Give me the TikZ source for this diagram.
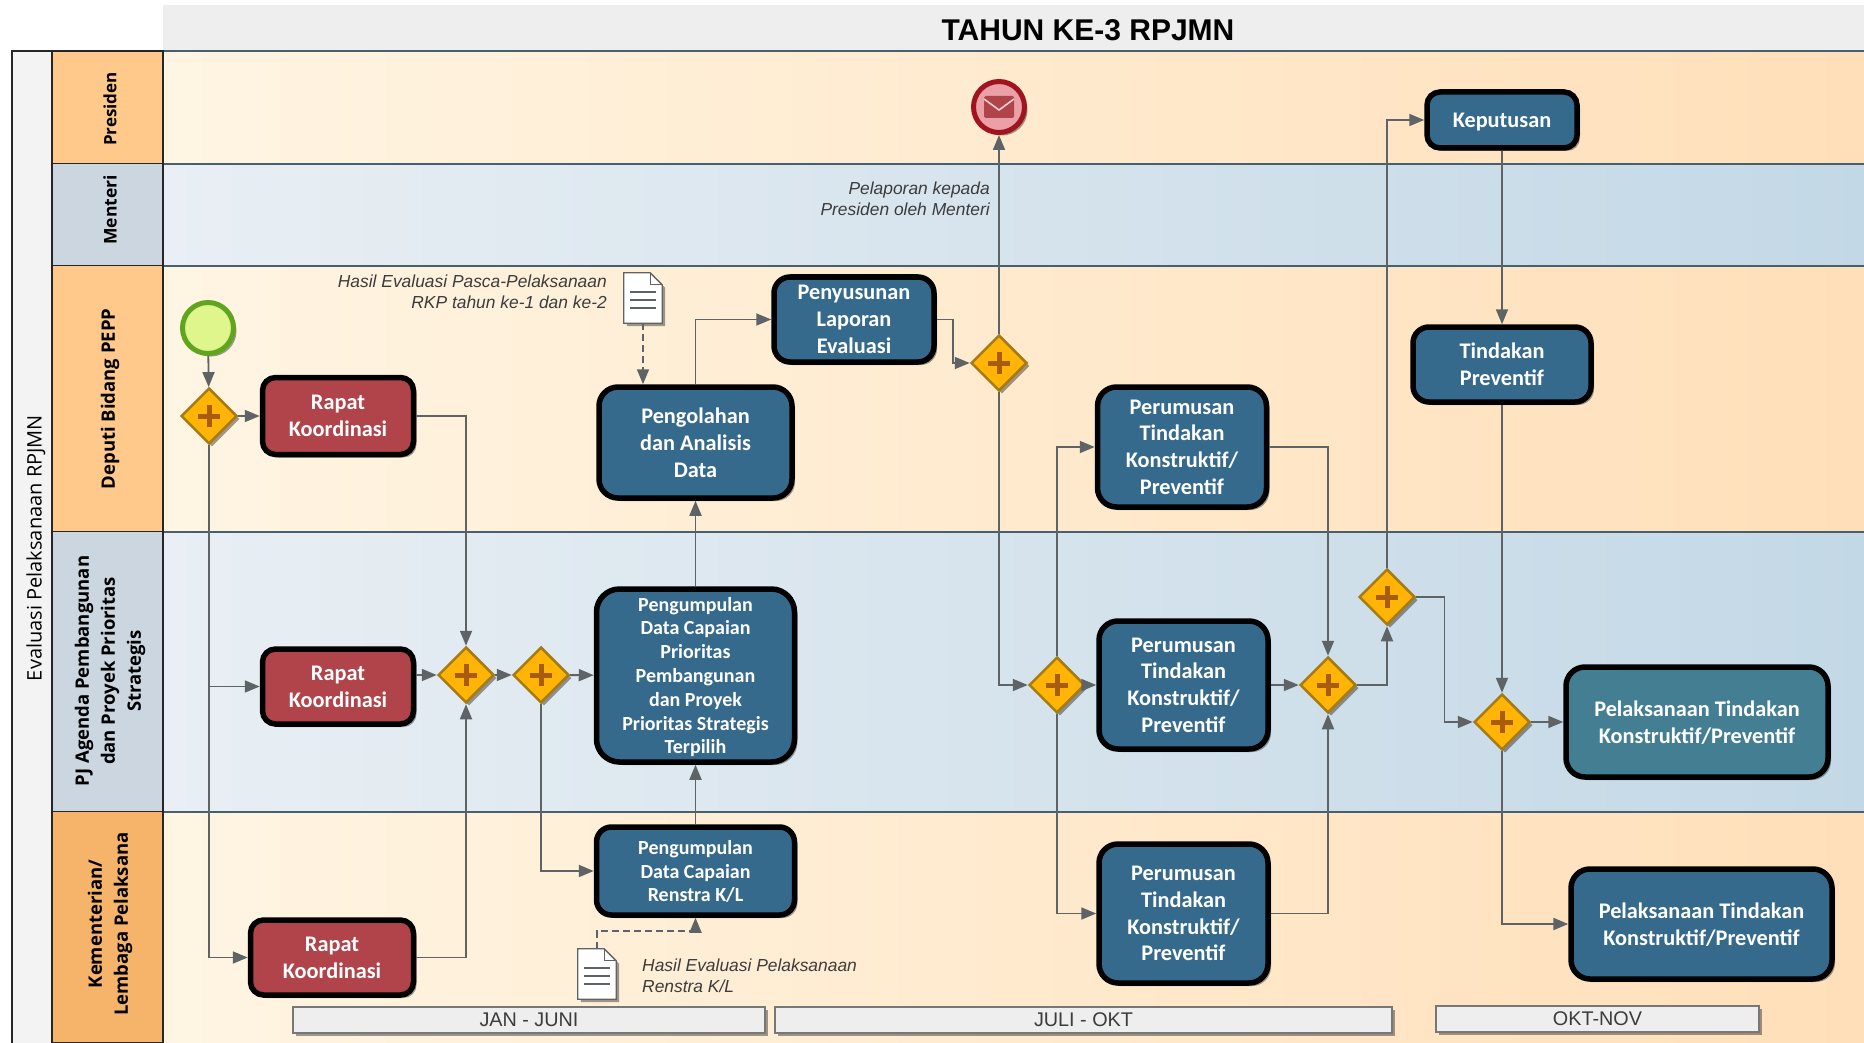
\documentclass[tikz,border=0pt]{standalone}
\usepackage{fontspec}
\setmainfont{Carlito}
\newfontfamily\hdrfont{Open Sans}
\newfontfamily\arialfont{Liberation Sans}
\usetikzlibrary{arrows.meta,shapes.geometric,shadows,calc}
\definecolor{lanecreamA}{HTML}{FFF5E3}
\definecolor{lanecreamB}{HTML}{FFDFB9}
\definecolor{laneblueA}{HTML}{E9EFF4}
\definecolor{laneblueB}{HTML}{C3D8E6}
\definecolor{hdrorange}{HTML}{FFC98C}
\definecolor{hdrorangeB}{HTML}{F6B36A}
\definecolor{hdrblue}{HTML}{CCD6E0}
\definecolor{lanerule}{HTML}{47606F}
\definecolor{taskblue}{HTML}{366A8D}
\definecolor{taskteal}{HTML}{437E93}
\definecolor{taskred}{HTML}{B0444A}
\definecolor{conn}{HTML}{5E6365}
\definecolor{gwfill}{HTML}{FFB406}
\definecolor{gwline}{HTML}{A67C12}
\definecolor{gwplus}{HTML}{A85C0E}
\definecolor{barfill}{HTML}{EEEEEE}
\definecolor{barline}{HTML}{777777}
\definecolor{notegray}{HTML}{3C3C3C}
\tikzset{
  softshadow/.style={drop shadow={shadow xshift=3pt,shadow yshift=-3pt,opacity=.38,fill=black}},
  taskbox/.style={draw=black,line width=5.5pt,rounded corners=16pt,fill=taskblue,text=white,align=center,softshadow,inner sep=0pt,text depth=-1pt,
     font=\fontsize{22.3}{26.8}\selectfont\bfseries},
  redbox/.style={taskbox,rounded corners=13pt,fill=taskred},
  tealbox/.style={taskbox,rounded corners=19pt,fill=taskteal},
  bluewide/.style={taskbox,rounded corners=19pt},
  smallbox/.style={taskbox,font=\fontsize{20}{23.8}\selectfont\bfseries},
  gwnode/.style={diamond,aspect=1,draw=gwline,line width=2.5pt,fill=gwfill,minimum width=56pt,minimum height=56pt,inner sep=0pt,softshadow,
     path picture={\draw[gwplus,line width=5pt] (path picture bounding box.center) ++(-11pt,0pt) -- ++(22pt,0pt);
                   \draw[gwplus,line width=5pt] (path picture bounding box.center) ++(0pt,-11pt) -- ++(0pt,22pt);}},
  link/.style={draw=conn,line width=1.8pt,-{Triangle[width=12pt,length=15pt]}},
  dashlink/.style={link,dashed,dash pattern=on 7pt off 4pt},
  hdrlabel/.style={rotate=90,align=center,font=\hdrfont\fontsize{18.5}{26}\selectfont\bfseries,text=black,inner sep=0pt},
  barbox/.style={draw=barline,line width=2pt,fill=barfill,softshadow,text=notegray,inner sep=0pt,font=\arialfont\fontsize{19.8}{20}\selectfont},
  note/.style={font=\arialfont\itshape\fontsize{17.4}{21}\selectfont,text=notegray,inner sep=0pt},
  docbox/.style={minimum width=38pt,minimum height=50pt,inner sep=0pt},
  docshape/.style={draw=conn,line width=1.3pt,fill=white,softshadow},
}
\newcommand{\docicon}[3]{%
  \node[docbox] (#1) at (#2,#3) {};
  \draw[docshape] (#1.north west) -- ($(#1.north east)+(-12pt,0pt)$) -- ($(#1.north east)+(0pt,-12pt)$) -- (#1.south east) -- (#1.south west) -- cycle;
  \draw[conn,line width=1.2pt] ($(#1.north east)+(-12pt,0pt)$) -- ($(#1.north east)+(-12pt,-12pt)$) -- ($(#1.north east)+(0pt,-12pt)$);
  \foreach \dy in {-19,-27,-35}{\draw[conn,line width=1.4pt] ($(#1.north west)+(6pt,\dy pt)$) -- ($(#1.north east)+(-6pt,\dy pt)$);}
}
\begin{document}
\begin{tikzpicture}[x=1pt,y=-1pt]
\useasboundingbox (0,0) rectangle (1864,1043);
\fill[white] (0,0) rectangle (1864,1043);
% title band
\fill[barfill] (163,5) rectangle (1864,51);
\node (title) at (1088,30) {\arialfont\fontsize{30}{32}\selectfont\bfseries TAHUN KE-3 RPJMN};
% lanes
\shade[left color=lanecreamA,right color=lanecreamB] (163,51) rectangle (1864,164);
\shade[left color=laneblueA,right color=laneblueB] (163,164) rectangle (1864,266);
\shade[left color=lanecreamA,right color=lanecreamB] (163,266) rectangle (1864,532);
\shade[left color=laneblueA,right color=laneblueB] (163,532) rectangle (1864,812);
\shade[left color=lanecreamA,right color=lanecreamB] (163,812) rectangle (1864,1043);
\foreach \yy in {51,164,266,532,812}{\draw[lanerule,line width=1.8pt] (163,\yy) -- (1864,\yy);}
% pool strip and headers
\fill[barfill!70!white] (12,51) rectangle (52,1043);
\draw[black!85,line width=1.6pt] (12,1043) -- (12,51) -- (163,51);
\foreach \ya/\yb/\cc in {51/164/hdrorange,164/266/hdrblue,266/532/hdrorange,532/812/hdrblue,812/1043/hdrorangeB}{
  \fill[\cc] (52,\ya) rectangle (163,\yb);
  \draw[black!85,line width=1.6pt] (52,\yb) -- (163,\yb);}
\draw[black!85,line width=1.6pt] (52,51) -- (163,51) -- (163,1043);
\draw[black!85,line width=1.6pt] (52,51) -- (52,1043);
\node[hdrlabel,font=\hdrfont\fontsize{20}{22}\selectfont] (pool) at (36,548) {Evaluasi Pelaksanaan RPJMN};
\node[hdrlabel,font=\hdrfont\fontsize{17}{20}\selectfont\bfseries] (h1) at (110,109) {Presiden};
\node[hdrlabel,font=\hdrfont\fontsize{17.5}{20}\selectfont\bfseries] (h2) at (110,210) {Menteri};
\node[hdrlabel] (h3) at (110,399) {Deputi Bidang PEPP};
\node[hdrlabel] (h4) at (110,671) {PJ Agenda Pembangunan\\dan Proyek Prioritas\\Strategis};
\node[hdrlabel] (h5) at (110,924) {Kementerian/\\Lembaga Pelaksana};
% events
\node[circle,draw={rgb,255:red,96;green,165;blue,30},line width=5pt,fill={rgb,255:red,222;green,246;blue,140},minimum size=51pt,inner sep=0pt,softshadow] (start) at (208,328) {};
\node[circle,draw={rgb,255:red,160;green,20;blue,32},line width=5pt,fill={rgb,255:red,234;green,160;blue,166},minimum size=51pt,inner sep=0pt,softshadow] (endev) at (999,107) {};
\fill[rounded corners=1.5pt,taskred] ($(endev)+(-15pt,-11pt)$) rectangle ($(endev)+(15pt,11pt)$);
\draw[white!75!taskred,line width=1.6pt] ($(endev)+(-15pt,8pt)$) -- ($(endev)+(0pt,-3pt)$) -- ($(endev)+(15pt,8pt)$);
% gateways
\node[gwnode] (g1) at (209,416) {};
\node[gwnode] (g2) at (466,675) {};
\node[gwnode] (g3) at (541,675) {};
\node[gwnode] (g4) at (999,363) {};
\node[gwnode] (g5) at (1057,685) {};
\node[gwnode] (g6) at (1328,685) {};
\node[gwnode] (g7) at (1387,597) {};
\node[gwnode] (g8) at (1502,722) {};
% tasks
\node[redbox,minimum width=151pt,minimum height=77pt] (r1) at (338,416) {Rapat\\Koordinasi};
\node[redbox,minimum width=151pt,minimum height=75pt] (r2) at (338,686.5) {Rapat\\Koordinasi};
\node[redbox,minimum width=163pt,minimum height=75pt] (r3) at (332,957.5) {Rapat\\Koordinasi};
\node[smallbox,rounded corners=23pt,minimum width=198pt,minimum height=173pt] (big) at (695.5,675.5) {Pengumpulan\\Data Capaian\\Prioritas\\Pembangunan\\dan Proyek\\Prioritas Strategis\\Terpilih};
\node[smallbox,rounded corners=15pt,minimum width=198pt,minimum height=88pt] (ren) at (695.5,871) {Pengumpulan\\Data Capaian\\Renstra K/L};
\node[bluewide,minimum width=193pt,minimum height=111pt] (peng) at (695.5,442.5) {Pengolahan\\dan Analisis\\Data};
\node[taskbox,minimum width=160pt,minimum height=85pt] (peny) at (854,319.5) {Penyusunan\\Laporan\\Evaluasi};
\node[bluewide,minimum width=169pt,minimum height=120pt] (p1) at (1182,447) {Perumusan\\Tindakan\\Konstruktif/\\Preventif};
\node[bluewide,minimum width=169pt,minimum height=128pt] (p2) at (1183.5,685) {Perumusan\\Tindakan\\Konstruktif/\\Preventif};
\node[bluewide,minimum width=169pt,minimum height=139pt] (p3) at (1183.5,913.5) {Perumusan\\Tindakan\\Konstruktif/\\Preventif};
\node[taskbox,rounded corners=13pt,minimum width=150pt,minimum height=56pt] (kep) at (1502,120) {Keputusan};
\node[taskbox,minimum width=178pt,minimum height=75pt] (tin) at (1502,364.5) {Tindakan\\Preventif};
\node[tealbox,minimum width=262pt,minimum height=110pt] (e1) at (1697,722) {Pelaksanaan Tindakan\\Konstruktif/Preventif};
\node[bluewide,minimum width=261pt,minimum height=110pt] (e2) at (1701.5,924) {Pelaksanaan Tindakan\\Konstruktif/Preventif};
% documents
\docicon{d1}{643}{298}
\docicon{d2}{597}{974}
% notes
\node[note,align=right,anchor=east] (n1) at (607,291.5) {Hasil Evaluasi Pasca-Pelaksanaan\\RKP tahun ke-1 dan ke-2};
\node[note,align=right,anchor=east] (n2) at (990,198.5) {Pelaporan kepada\\Presiden oleh Menteri};
\node[note,align=left,anchor=west] (n3) at (642,976) {Hasil Evaluasi Pelaksanaan\\Renstra K/L};
% period bars
\node[barbox,text depth=-3pt,minimum width=472pt,minimum height=26pt] (b1) at (529,1020) {JAN - JUNI};
\node[barbox,text depth=-3pt,minimum width=617pt,minimum height=26pt] (b2) at (1083.5,1020) {JULI - OKT};
\node[barbox,text depth=-3pt,minimum width=323pt,minimum height=26pt] (b3) at (1597.5,1019) {OKT-NOV};
% connectors
\draw[link] (start) -- (g1);
\draw[link] (g1) -- (r1);
\draw[link] (g1.south) |- (r2.west);
\draw[link] (g1.south) |- (r3.west);
\draw[link] (r1.east) -| (g2.north);
\draw[link] (r2.east |- g2.west) -- (g2.west);
\draw[link] (r3.east) -| (g2.south);
\draw[link] (g2) -- (g3);
\draw[link] (g3) -- (big);
\draw[link] (g3.south) |- (ren.west);
\draw[link] (ren) -- (big);
\draw[link] (big) -- (peng);
\draw[dashlink] (d1.south) -- (d1.south |- peng.north);
\draw[link] (peng.north) |- (peny.west);
\draw[link] (peny.east) -| ($(peny.east)!0.5!(g4.west)$) |- (g4.west);
\draw[link] (g4.north) -- (endev.south);
\draw[link] (g4.south) |- (g5.west);
\draw[link] (g5.north) |- (p1.west);
\draw[link] (g5) -- (p2);
\draw[link] (g5.south) |- (p3.west);
\draw[link] (p1.east) -| (g6.north);
\draw[link] (p2) -- (g6);
\draw[link] (p3.east) -| (g6.south);
\draw[link] (g6.east) -| (g7.south);
\draw[link] (g7.north) |- (kep.west);
\draw[link] (g7.east) -| ($(g7.east)!0.5!(g8.west)$) |- (g8.west);
\draw[link] (kep) -- (tin);
\draw[link] (tin) -- (g8);
\draw[link] (g8) -- (e1);
\draw[link,line width=2.4pt] (g8.south) |- (e2.west);
\coordinate (d2turn) at (597,931);
\draw[dashlink] (d2.north) -- (d2turn) -| (ren.south);
\end{tikzpicture}
\end{document}
